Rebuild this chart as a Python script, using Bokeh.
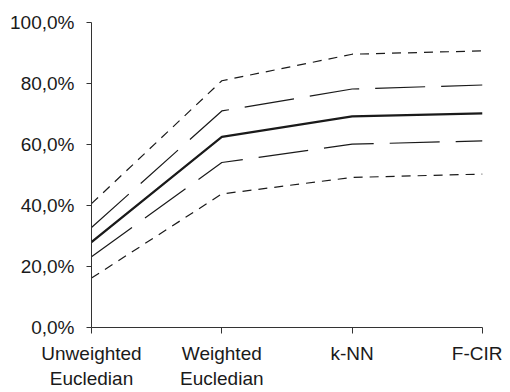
from bokeh.plotting import figure
from bokeh.models import Range1d, FixedTicker
from bokeh.embed import file_html
from bokeh.resources import INLINE

categories = ["Unweighted\nEucledian", "Weighted\nEucledian", "k-NN", "F-CIR"]
y_ticks = [0, 20, 40, 60, 80, 100]
y_tick_labels = ["0,0%", "20,0%", "40,0%", "60,0%", "80,0%", "100,0%"]

mean = [28.0, 62.5, 69.2, 70.2]
upper_inner = [32.8, 71.0, 78.2, 79.5]
lower_inner = [23.2, 54.1, 60.1, 61.2]
upper_outer = [40.6, 80.9, 89.6, 90.7]
lower_outer = [16.2, 43.8, 49.2, 50.3]

xs = list(range(len(categories)))

p = figure(frame_width=391, frame_height=305, output_backend="svg", toolbar_location=None,
           x_range=Range1d(0, 3), y_range=Range1d(0, 100),
           min_border_left=91, min_border_right=20, min_border_top=22, min_border_bottom=30)
p.outline_line_color = None
p.xgrid.visible = False
p.ygrid.visible = False
p.background_fill_color = "white"

col = "#1a1a1a"
p.line(xs, upper_outer, line_color=col, line_width=1.2, line_dash="9 7")
p.line(xs, lower_outer, line_color=col, line_width=1.2, line_dash="9 7")
p.line(xs, upper_inner, line_color=col, line_width=1.2, line_dash="50 16")
p.line(xs, lower_inner, line_color=col, line_width=1.2, line_dash="50 16")
p.line(xs, mean, line_color=col, line_width=2.2)

for ax in (p.xaxis, p.yaxis):
    ax.axis_line_color = "#333333"
    ax.axis_line_width = 1
    ax.major_tick_line_color = "#333333"
    ax.minor_tick_line_color = None
    ax.major_label_text_font = "Liberation Sans"
    ax.major_label_text_font_size = "19px"
    ax.major_label_text_color = "#1a1a1a"

p.xaxis.ticker = FixedTicker(ticks=xs)
p.xaxis.major_label_overrides = {i: c for i, c in zip(xs, categories)}
p.xaxis.major_tick_in = 0
p.xaxis.major_tick_out = 6
p.xaxis.major_label_standoff = 9

p.yaxis.ticker = FixedTicker(ticks=y_ticks)
p.yaxis.major_label_overrides = {t: l for t, l in zip(y_ticks, y_tick_labels)}
p.yaxis.major_tick_in = 0
p.yaxis.major_tick_out = 5
p.yaxis.major_label_standoff = 12

open("out.html", "w").write(file_html(p, INLINE))
